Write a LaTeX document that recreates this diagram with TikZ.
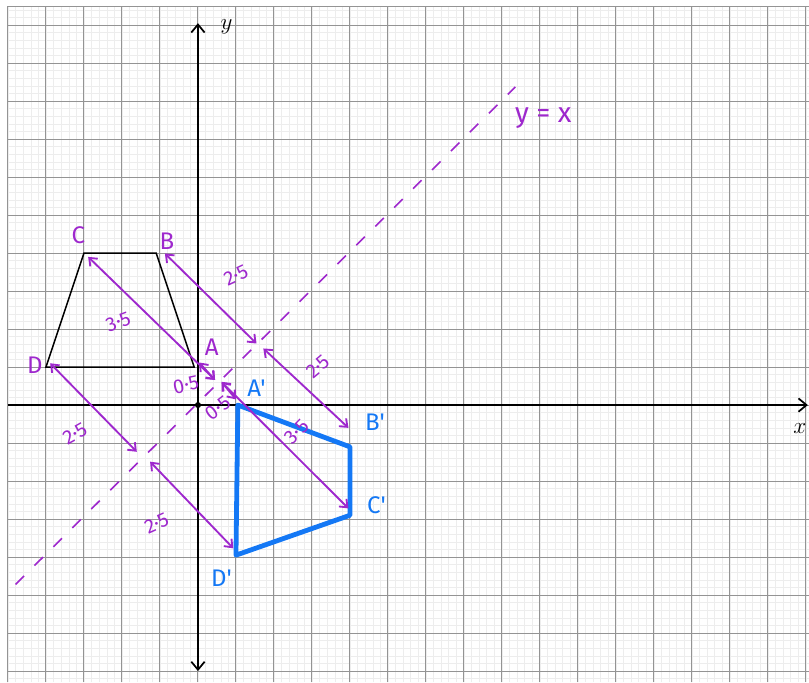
\documentclass[tikz,border=0pt]{standalone}
\usepackage{fontspec}
\newfontfamily\handfont{Fira Sans}
\usetikzlibrary{arrows.meta}
\definecolor{penpurple}{RGB}{158,40,205}
\definecolor{penblue}{RGB}{20,120,245}
\tikzset{
  minorline/.style={black!7,line width=0.4pt},
  majorline/.style={black!42,line width=0.75pt},
  axisline/.style={line width=1.3pt},
  dist/.style={penpurple,line width=1.4pt,
    {Straight Barb[length=5pt,width=8pt]}-{Straight Barb[length=5pt,width=8pt]}},
  mirror/.style={penpurple,line width=1.2pt,dash pattern=on 9pt off 11pt},
  numlbl/.style={penpurple,inner sep=1pt,font=\handfont\fontsize{15}{15}\selectfont},
  ptlbl/.style={penpurple,inner sep=1pt,font=\handfont\fontsize{18}{18}\selectfont},
  imglbl/.style={ptlbl,penblue}
}
\begin{document}
\begin{tikzpicture}
  \useasboundingbox (-5.21,-7.29) rectangle (16.08,10.66);
  % graph paper
  \draw[minorline] (-5,-7.3) grid[step=0.2] (16.1,10.48);
  \draw[majorline] (-5,-7.3) grid[step=1] (16.1,10.48);
  \draw[majorline] (-5,-7.3) -- (-5,10.48) -- (16.1,10.48);

  % axes
  \coordinate (xl) at (-5,0);
  \coordinate (xr) at (16.05,0);
  \coordinate (yb) at (0,-7);
  \coordinate (yt) at (0,10.05);
  \draw[axisline,-{Straight Barb[length=6pt,width=10pt]}] (xl) -- (xr);
  \draw[axisline,{Straight Barb[length=6pt,width=10pt]}-{Straight Barb[length=6pt,width=10pt]}] (yb) -- (yt);
  \node[font=\LARGE] (xlabel) at (15.84,-0.61) {$x$};
  \node[font=\LARGE] (ylabel) at (0.75,9.96) {$y$};
  \fill (0,0) circle (0.08);

  % mirror line
  \coordinate (m1) at (-4.8,-4.72);
  \coordinate (m2) at (8.35,8.37);
  \draw[mirror] (m1) -- (m2);
  \node[penpurple,font=\handfont\fontsize{21}{21}\selectfont] (yx) at (9.09,7.54) {y = x};

  % object
  \coordinate (A) at (-0.1,1);
  \coordinate (B) at (-1.1,4);
  \coordinate (C) at (-3,4);
  \coordinate (D) at (-4,1);
  \draw[line width=1.1pt] (A) -- (B) -- (C) -- (D) -- cycle;
  \node[ptlbl] (lA) at (0.36,1.53) {A};
  \node[ptlbl] (lB) at (-0.82,4.3) {B};
  \node[ptlbl] (lC) at (-3.15,4.47) {C};
  \node[ptlbl] (lD) at (-4.29,1.05) {D};

  % image
  \coordinate (Ap) at (1.05,0);
  \coordinate (Bp) at (4,-1.1);
  \coordinate (Cp) at (4,-2.9);
  \coordinate (Dp) at (1,-3.95);
  \draw[penblue,line width=3.6pt,line join=round] (Ap) -- (Bp) -- (Cp) -- (Dp) -- cycle;
  \node[imglbl] (lAp) at (1.54,0.44) {A'};
  \node[imglbl] (lBp) at (4.66,-0.45) {B'};
  \node[imglbl] (lCp) at (4.7,-2.63) {C'};
  \node[imglbl] (lDp) at (0.62,-4.56) {D'};

  % distances to the mirror line
  \coordinate (tC) at (-2.89,3.9);
  \coordinate (tA) at (0.03,1.12);
  \coordinate (fA) at (0.45,0.66);
  \coordinate (gA) at (0.62,0.61);
  \coordinate (tAp) at (1.0,0.15);
  \coordinate (tCp) at (3.96,-2.72);
  \coordinate (tB) at (-0.87,3.99);
  \coordinate (fB) at (1.54,1.62);
  \coordinate (gB) at (1.72,1.49);
  \coordinate (tBp) at (3.96,-0.6);
  \coordinate (tD) at (-3.89,1.1);
  \coordinate (fD) at (-1.61,-1.23);
  \coordinate (gD) at (-1.26,-1.49);
  \coordinate (tDp) at (0.93,-3.77);
  \draw[dist] (tC) -- (fA);
  \draw[dist] (tA) -- (fA);
  \draw[dist] (gA) -- (tAp);
  \draw[dist] (gA) -- (tCp);
  \draw[dist] (tB) -- (fB);
  \draw[dist] (gB) -- (tBp);
  \draw[dist] (tD) -- (fD);
  \draw[dist] (gD) -- (tDp);

  \node[numlbl,rotate=20] (n1) at (-2.1,2.19) {3·5};
  \node[numlbl,rotate=12] (n2) at (-0.32,0.53) {0·5};
  \node[numlbl,rotate=37] (n3) at (0.53,-0.08) {0·5};
  \node[numlbl,rotate=45] (n4) at (2.6,-0.7) {3·5};
  \node[numlbl,rotate=25] (n5) at (1.0,3.42) {2·5};
  \node[numlbl,rotate=40] (n6) at (3.16,1.0) {2·5};
  \node[numlbl,rotate=29] (n7) at (-3.24,-0.75) {2·5};
  \node[numlbl,rotate=24] (n8) at (-1.09,-3.11) {2·5};
\end{tikzpicture}
\end{document}
